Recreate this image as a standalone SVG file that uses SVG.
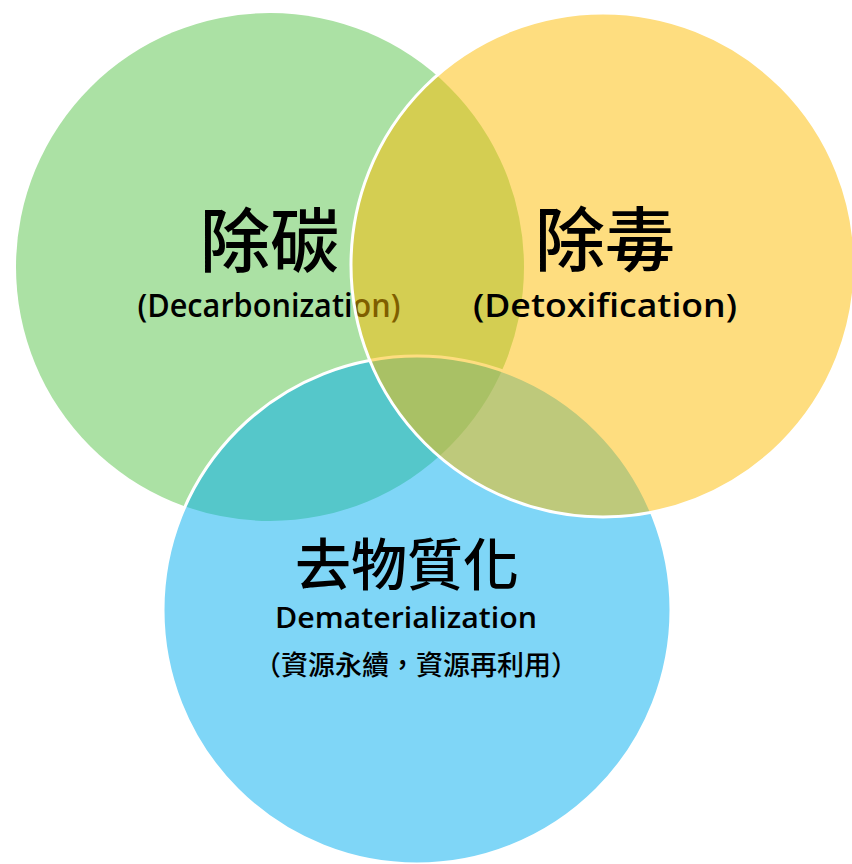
<svg xmlns="http://www.w3.org/2000/svg" width="852" height="864" viewBox="0 0 852 864">
<style>
.cjk{font-family:"Noto Sans CJK TC","Noto Sans CJK SC",sans-serif;fill:#000;text-anchor:middle}
.lat{font-family:"Open Sans","Noto Sans","Noto Sans CJK TC",sans-serif;fill:#000;text-anchor:middle}
</style>
<rect width="852" height="864" fill="#fff"/>
<g id="decarbonization">
<circle cx="270" cy="267" r="254" fill="#abe1a4"/>
<text class="cjk" x="270" y="267" font-size="70" font-weight="500">除碳</text>
<text class="lat" x="269" y="317" font-size="32" font-weight="600" textLength="263" lengthAdjust="spacingAndGlyphs">(Decarbonization)</text>
</g>
<g id="dematerialization">
<circle cx="417" cy="610" r="254" fill="rgb(0,174,239)" fill-opacity="0.5" stroke="#fff" stroke-width="3"/>
<text class="cjk" x="407" y="585" font-size="56" font-weight="500">去物質化</text>
<text class="lat" x="406" y="628" font-size="29" font-weight="600" textLength="262" lengthAdjust="spacingAndGlyphs">Dematerialization</text>
<text class="cjk" x="416" y="675" font-size="27" font-weight="500">（資源永續，資源再利用）</text>
</g>
<g id="detoxification">
<circle cx="603" cy="265" r="252" fill="rgb(253,187,0)" fill-opacity="0.5" stroke="#fff" stroke-width="3"/>
<text class="cjk" x="605" y="266" font-size="70" font-weight="500">除毒</text>
<text class="lat" x="605" y="317" font-size="32" font-weight="600" textLength="264" lengthAdjust="spacingAndGlyphs">(Detoxification)</text>
</g>
<g id="connectors"/>
</svg>
